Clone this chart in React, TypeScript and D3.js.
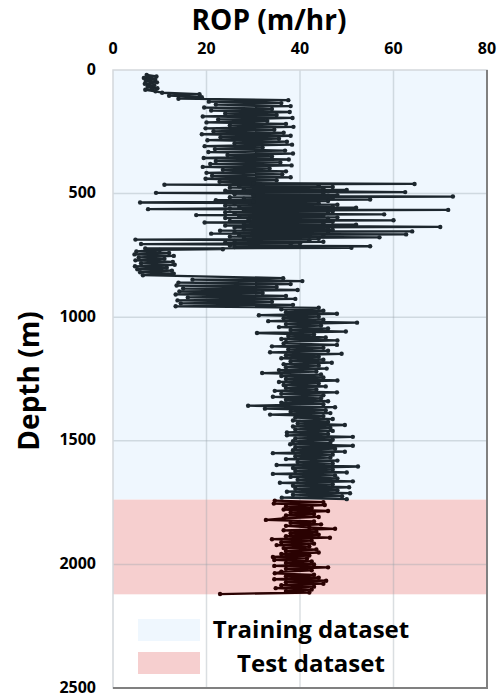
import React, { useRef, useEffect } from "react";
import * as d3 from "d3";

// ROP log; each block has its own start depth and sampling step (m)
const blockStarts = [20, 92, 122, 458, 734, 842, 962];
const blockSteps = [6, 6, 6, 3, 6, 6, 6];
const ropTopBlob = [7.2, 9.3, 6.6, 9.0, 7.0, 9.4, 6.8, 8.8, 7.4, 9.5, 6.9, 9.1];
const ropShallow = [10.5, 18.5, 12, 19, 14];
const ropUpper = [
  37.5, 20.5, 36, 22, 38, 19.5, 34, 21, 37.8, 24, 35, 19.2, 38.4, 22.5, 33, 20, 37, 25, 38.6, 19.8,
  34.5, 21.5, 36.5, 19, 38, 23, 35.5, 20.2, 37.2, 26, 38.3, 19.6, 32, 21.8, 36.8, 20.4, 38.5, 24.5,
  34, 19.4, 37.6, 22, 35.8, 20.8, 38.2, 19.2, 33.5, 23.5, 37, 20, 36.2, 21.2, 38, 19.8, 35, 22.8,
];
const ropWide = [
  30, 64.5, 11, 44, 27, 47, 25, 45, 28, 50, 24, 46, 62.5, 9.2, 45, 26, 48, 30, 72.7, 25, 47, 28, 55,
  22, 46, 30, 5.8, 44, 26, 48, 24, 47, 27, 52, 25, 7.5, 71.7, 28, 47, 24, 46, 26, 58, 17.8, 45, 27,
  48, 24, 46, 29, 60, 25, 47, 19.6, 45, 28, 52, 24, 47, 70, 26, 46, 28, 47, 22.9, 64, 26, 46, 21,
  62.7, 27, 45, 25, 57, 28, 44, 4.8, 42, 26, 45, 24, 40, 6, 38, 25, 55, 26, 51, 6.9, 23.5, 10,
];
const ropSlow = [5, 12, 4.6, 13, 5.5, 11, 4.8, 12.8, 6, 13.2, 4.7, 11.5, 5.2, 12.6, 5.8, 13, 6.4];
const ropMid = [36.4, 17, 40.5, 14, 38, 13.6, 35, 15, 39.5, 14.2, 32, 13.4, 37, 16, 39, 13.8, 34, 14.5, 38.5, 13.4];
const ropLower = [
  44, 36, 45, 37, 47.9, 31.2, 44, 36.5, 45, 33.2, 52.2, 37, 44.5, 35.5, 46, 38, 49.8, 30.8, 43, 37.5,
  45.5, 36, 48, 37, 36.5, 47.9, 34, 45, 37.5, 46, 33.6, 48.9, 37, 44, 36, 45, 38, 46.8, 36.5, 44,
  37, 45.7, 35.5, 43.5, 31.9, 44.5, 36, 45, 37, 48, 35.5, 44, 36.5, 45.5, 37, 43.5, 34.6, 47.9, 36, 45,
  34.2, 44.5, 37, 46, 36, 45, 28.9, 47.5, 32.5, 45.5, 38, 46.5, 33.6, 45, 39, 47, 38.5, 46, 39.5, 49.6,
  38.5, 46.5, 39, 47, 37.2, 46, 37.2, 51.3, 39, 47, 38.5, 46.5, 37.9, 51.3, 39, 47.5, 38.5, 49.6, 34.2, 47,
  39, 46.5, 37, 48, 39.5, 47, 35, 52.4, 38.5, 47, 39, 50, 34.2, 47.5, 38, 48, 39.5, 51.3, 35.7, 47,
  38.5, 50.5, 39, 48, 37.2, 50.7, 38.5, 49, 36.1, 50,
];
const testStart = 1742;
const testStep = 6;
const ropTest = [
  34.6, 45, 34.4, 45.3, 37, 42.5, 36.5, 46, 38, 43, 37, 44, 36.5, 32.7, 43, 38, 44.5, 37, 42, 47.5,
  36.5, 43.5, 38, 44, 37, 46.4, 34, 42.5, 36, 43, 35, 42, 36.5, 43.5, 37, 44, 36, 42, 34.2, 41.5,
  34.5, 42.5, 37, 43, 34.5, 46, 37, 42.5, 36, 34.6, 43, 37, 44, 34.5, 45.6, 37, 45, 36, 43, 34.8,
  42.5, 37, 42, 22.9,
];

const datasetNames = ["Training dataset", "Test dataset"];
const datasetDepths = [
  [0, 1738],
  [1738, 2121],
];
const ropTicks = [0, 20, 40, 60, 80];
const depthTicks = [0, 500, 1000, 1500, 2000, 2500];

const FONT = "'Open Sans', 'Noto Sans', sans-serif";

type Pt = { depth: number; rop: number };

const App = () => {
  const ref = useRef<SVGSVGElement | null>(null);

  useEffect(() => {
    const width = 498;
    const height = 694;
    const plot = { left: 113, right: 487, top: 70, bottom: 688 };

    const blocks = [ropTopBlob, ropShallow, ropUpper, ropWide, ropSlow, ropMid, ropLower];
    const train: Pt[] = [];
    blocks.forEach((vals, b) => {
      vals.forEach((v, i) => train.push({ depth: blockStarts[b] + i * blockSteps[b], rop: v }));
    });
    const test: Pt[] = ropTest.map((v, i) => ({ depth: testStart + i * testStep, rop: v }));

    const svg = d3.select(ref.current);
    svg.selectAll("*").remove();
    svg.attr("width", width).attr("height", height);

    const x = d3.scaleLinear().domain([0, 80]).range([plot.left, plot.right]);
    const y = d3.scaleLinear().domain([0, 2500]).range([plot.top, plot.bottom]);

    // white plot background + dataset bands
    svg
      .append("rect")
      .attr("x", plot.left)
      .attr("y", plot.top)
      .attr("width", plot.right - plot.left)
      .attr("height", plot.bottom - plot.top)
      .attr("fill", "#ffffff");

    const bandColors = ["#eff7fe", "#f6cfcf"];
    svg
      .selectAll("rect.band")
      .data(datasetDepths)
      .enter()
      .append("rect")
      .attr("class", "band")
      .attr("x", plot.left)
      .attr("y", (d) => y(d[0]))
      .attr("width", plot.right - plot.left)
      .attr("height", (d) => y(d[1]) - y(d[0]))
      .attr("fill", (d, i) => bandColors[i]);

    // grid
    const grid = svg.append("g").attr("stroke", "rgba(150,160,170,0.35)").attr("stroke-width", 1.5);
    ropTicks.slice(1, -1).forEach((t) => {
      grid.append("line").attr("x1", x(t)).attr("x2", x(t)).attr("y1", plot.top).attr("y2", plot.bottom);
    });
    depthTicks.slice(1, -1).forEach((t) => {
      grid.append("line").attr("x1", plot.left).attr("x2", plot.right).attr("y1", y(t)).attr("y2", y(t));
    });

    // frame
    svg
      .append("rect")
      .attr("x", plot.left)
      .attr("y", plot.top)
      .attr("width", plot.right - plot.left)
      .attr("height", plot.bottom - plot.top)
      .attr("fill", "none")
      .attr("stroke", "#d4d8dc")
      .attr("stroke-width", 1.5);
    svg
      .append("path")
      .attr("d", `M${plot.left},${plot.bottom}H${plot.right}V${plot.top}`)
      .attr("fill", "none")
      .attr("stroke", "#808080")
      .attr("stroke-width", 2);

    // ROP logs
    const line = d3
      .line<Pt>()
      .x((d) => x(d.rop))
      .y((d) => y(d.depth));

    const drawSeries = (data: Pt[], color: string) => {
      svg
        .append("path")
        .datum(data)
        .attr("d", line)
        .attr("fill", "none")
        .attr("stroke", color)
        .attr("stroke-width", 2.3)
        .attr("stroke-linejoin", "round");
      svg
        .append("g")
        .selectAll("circle")
        .data(data)
        .enter()
        .append("circle")
        .attr("cx", (d) => x(d.rop))
        .attr("cy", (d) => y(d.depth))
        .attr("r", 2.2)
        .attr("fill", color);
    };
    drawSeries(train, "#1d272e");
    drawSeries(test, "#2a0202");

    // axes labels
    svg
      .append("g")
      .selectAll("text")
      .data(ropTicks)
      .enter()
      .append("text")
      .attr("x", (d) => x(d))
      .attr("y", 54)
      .attr("text-anchor", "middle")
      .attr("font-family", FONT)
      .attr("font-weight", 700)
      .attr("font-size", 16)
      .text((d) => d);

    svg
      .append("g")
      .selectAll("text")
      .data(depthTicks)
      .enter()
      .append("text")
      .attr("x", 96)
      .attr("y", (d) => y(d) + 4.5)
      .attr("text-anchor", "end")
      .attr("font-family", FONT)
      .attr("font-weight", 700)
      .attr("font-size", 16)
      .text((d) => d);

    svg
      .append("text")
      .attr("x", 269)
      .attr("y", 30)
      .attr("text-anchor", "middle")
      .attr("font-family", FONT)
      .attr("font-weight", 700)
      .attr("font-size", 28)
      .text("ROP (m/hr)");

    svg
      .append("text")
      .attr("transform", "translate(39,381) rotate(-90)")
      .attr("text-anchor", "middle")
      .attr("font-family", FONT)
      .attr("font-weight", 700)
      .attr("font-size", 28)
      .text("Depth (m)");

    // legend
    const legend = svg.append("g");
    datasetNames.forEach((name, i) => {
      legend
        .append("rect")
        .attr("x", 138)
        .attr("y", 619 + i * 33)
        .attr("width", 62)
        .attr("height", 22)
        .attr("fill", bandColors[i]);
      legend
        .append("text")
        .attr("x", 311)
        .attr("y", 638 + i * 34)
        .attr("text-anchor", "middle")
        .attr("font-family", FONT)
        .attr("font-weight", 700)
        .attr("font-size", 24)
        .text(name);
    });
  }, []);

  return <svg ref={ref} style={{ position: "absolute", left: 0, top: 0, display: "block" }} />;
};

export default App;
